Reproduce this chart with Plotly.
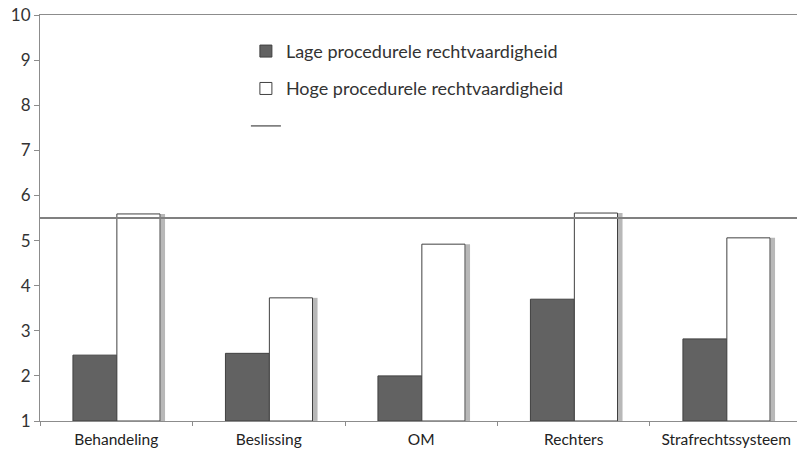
import plotly.graph_objects as go

categories = ["Behandeling", "Beslissing", "OM", "Rechters", "Strafrechtssysteem"]
lage = [2.46, 2.50, 2.00, 3.70, 2.82]
hoge = [5.59, 3.73, 4.92, 5.61, 5.06]
referentie = 5.5
series_names = ["Lage procedurele rechtvaardigheid", "Hoge procedurele rechtvaardigheid", ""]
y_ticks = list(range(1, 11))

FONT = "Lato, 'Open Sans', sans-serif"
fig = go.Figure()

# shadow behind white bars
fig.add_trace(go.Bar(
    x=categories, y=[v - 1 for v in hoge], base=1, offset=0.29, width=0.03,
    marker=dict(color="#b8b8b8", line=dict(width=0)), showlegend=False, hoverinfo="skip"))
fig.add_trace(go.Bar(
    x=categories, y=[v - 1 for v in lage], base=1, offset=-0.284, width=0.288,
    name=series_names[0], legendgroup="a",
    marker=dict(color="#626262", line=dict(color="#404040", width=1))))
fig.add_trace(go.Bar(
    x=categories, y=[v - 1 for v in hoge], base=1, offset=0.004, width=0.283,
    name=series_names[1], legendgroup="b",
    marker=dict(color="#ffffff", line=dict(color="#404040", width=1))))
fig.add_trace(go.Scatter(
    x=[0, 1], y=[referentie, referentie], xaxis="x2", mode="lines",
    name=series_names[2], legendgroup="c",
    line=dict(color="#808080", width=1.8), hoverinfo="skip"))

fig.update_layout(
    width=797, height=450,
    margin=dict(l=40, r=0, t=15, b=29),
    paper_bgcolor="white", plot_bgcolor="white",
    barmode="overlay",
    font=dict(family=FONT, size=14, color="#333333"),
    showlegend=True,
    legend=dict(x=0.272, y=0.956, xanchor="left", yanchor="top",
                bgcolor="rgba(0,0,0,0)", font=dict(size=18, color="#333333"),
                tracegroupgap=11, traceorder="grouped", itemwidth=30),
    xaxis=dict(type="category", range=[-0.5, 4.464], showline=True, linecolor="#8c8c8c",
               linewidth=1.2, mirror=True, ticks="outside", tickson="boundaries",
               ticklen=4, tickcolor="#8c8c8c", showgrid=False, automargin=False,
               ticklabelstandoff=4,
               tickfont=dict(size=15.5, color="#222222")),
    xaxis2=dict(overlaying="x", range=[0, 1], visible=False, fixedrange=True),
    yaxis=dict(range=[1, 10], tickvals=y_ticks, showline=True, linecolor="#8c8c8c",
               linewidth=1.2, ticks="outside", ticklen=5, tickcolor="#8c8c8c",
               showgrid=False, zeroline=False, automargin=False,
               tickfont=dict(size=17, color="#333333")),
)

fig.write_html("out.html", config={"displayModeBar": False})
with open("out.html", encoding="utf-8") as f:
    html = f.read()
html = html.replace("<body>", "<body style=\"margin:0;overflow:hidden\">", 1)
with open("out.html", "w", encoding="utf-8") as f:
    f.write(html)
